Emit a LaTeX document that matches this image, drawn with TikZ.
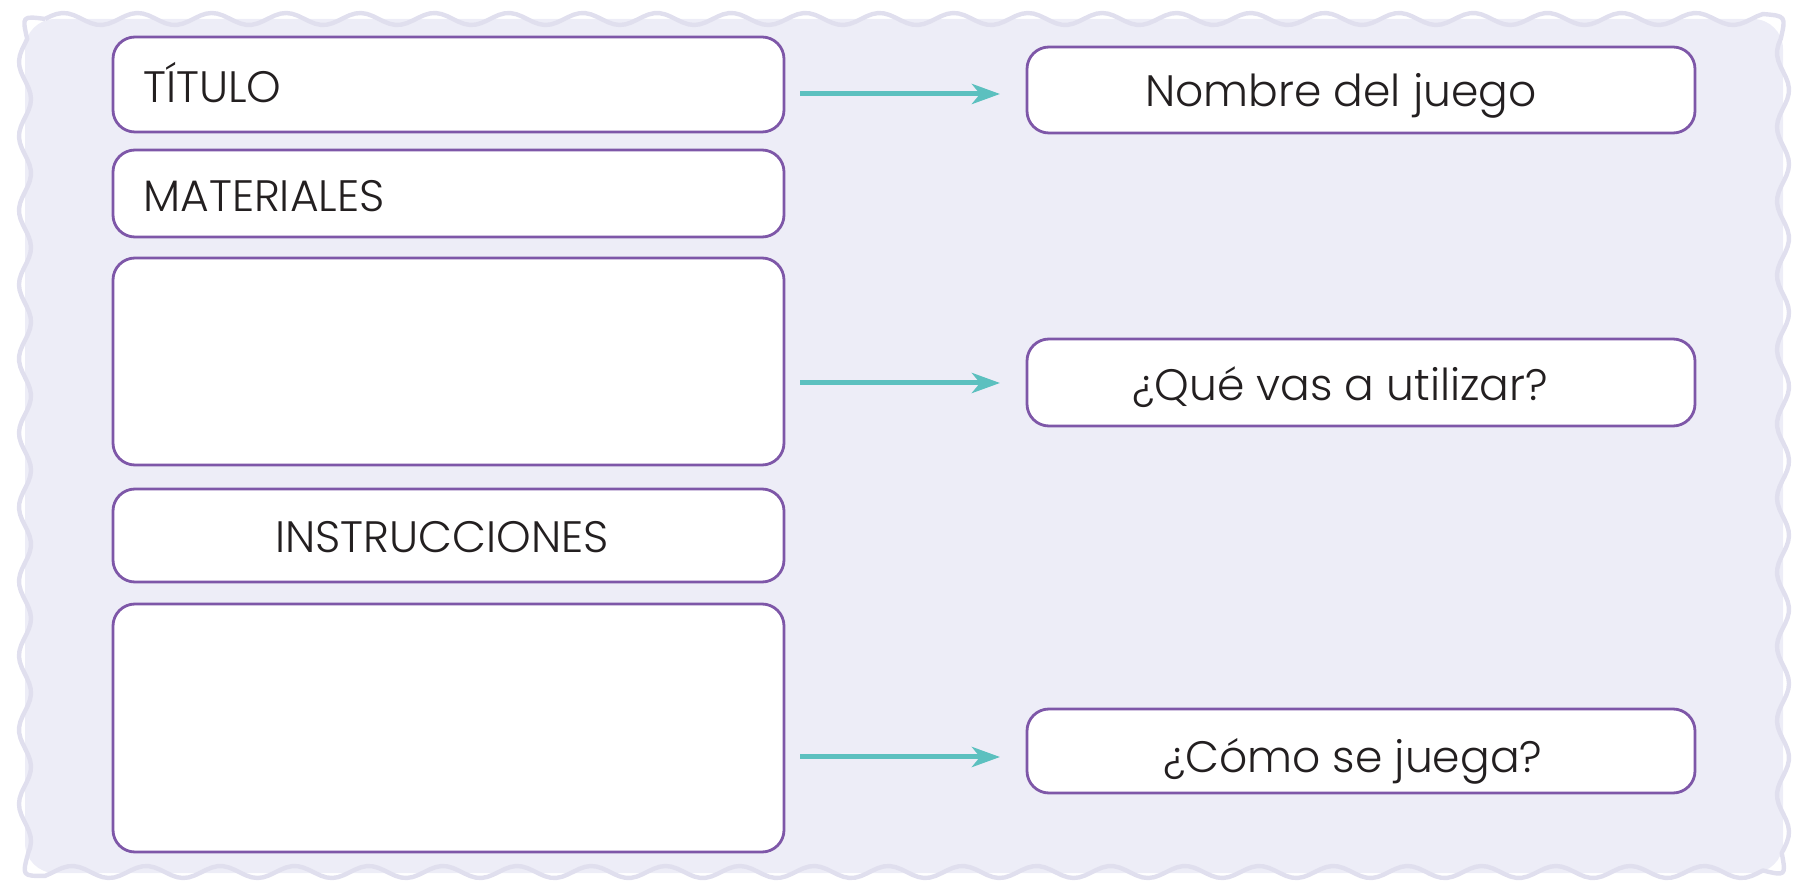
\documentclass[tikz,border=0pt]{standalone}
\usepackage{fontspec}
\setmainfont{Poppins Light}
\usetikzlibrary{arrows.meta,fit}
\definecolor{bgfill}{HTML}{EDEDF7}
\definecolor{wavec}{HTML}{E0DFEE}
\definecolor{purp}{HTML}{7E57A8}
\definecolor{tealc}{HTML}{5CC0BF}
\definecolor{ink}{HTML}{231F20}
\begin{document}
\begin{tikzpicture}[x=0.5pt,y=-0.5pt,
  box/.style={draw=purp, line width=1.4pt, fill=white, rounded corners=11pt, inner sep=0pt},
  txt/.style={text=ink, font=\fontsize{22}{26}\selectfont, inner sep=0pt, anchor=base west},
  arr/.style={draw=tealc, line width=2.5pt, -{Stealth[length=14pt,width=10pt,inset=4pt]}},
  wavy/.style={draw=wavec, line width=2.2pt, line join=round}]
\useasboundingbox (0,0) rectangle (1800,881);
% background card
\fill[bgfill, rounded corners=15pt] (25,19) rectangle (1783,873);
\draw[wavy]
  plot[domain=45:1763,samples=300] (\x,{19-6*cos((\x-657)/74.2*360)})
  .. controls (1786,16) .. ({1783+6*cos((39-90)/74.2*360)},39)
  -- plot[domain=39:853,samples=150] ({1783+6*cos((\x-90)/74.2*360)},\x)
  .. controls (1786,876) .. (1763,{872-6*cos((1763-72)/74.2*360)})
  -- plot[domain=1763:45,samples=300] (\x,{872-6*cos((\x-72)/74.2*360)})
  .. controls (22,876) .. ({25-6*cos((853-62)/74.2*360)},853)
  -- plot[domain=853:39,samples=150] ({25-6*cos((\x-62)/74.2*360)},\x)
  .. controls (22,16) .. (45,{19-6*cos((45-657)/74.2*360)});
% left column
\node[box, fit={(113,37) (784,132)}] (b1) {};
\node[box, fit={(113,150) (784,237)}] (b2) {};
\node[box, fit={(113,258) (784,465)}] (b3) {};
\node[box, fit={(113,489) (784,582)}] (b4) {};
\node[box, fit={(113,604) (784,852)}] (b5) {};
% right column
\node[box, fit={(1027,47) (1695,133)}] (r1) {};
\node[box, fit={(1027,339) (1695,426)}] (r2) {};
\node[box, fit={(1027,709) (1695,793)}] (r3) {};
% texts
\node[txt] (t1) at (143,103) {TÍTULO};
\node[txt] (t2) at (143,212) {MATERIALES};
\node[txt] (t4) at (275,553) {INSTRUCCIONES};
\node[txt] (s1) at (1145,107) {Nombre del juego};
\node[txt] (s2) at (1132,401) {¿Qué vas a utilizar?};
\node[txt] (s3) at (1163,772) {¿Cómo se juega?};
% arrows
\coordinate (a1s) at (800,94);  \coordinate (a1e) at (1000,94);
\coordinate (a2s) at (800,383); \coordinate (a2e) at (1000,383);
\coordinate (a3s) at (800,757); \coordinate (a3e) at (1000,757);
\draw[arr] (a1s) -- (a1e);
\draw[arr] (a2s) -- (a2e);
\draw[arr] (a3s) -- (a3e);
\end{tikzpicture}
\end{document}
